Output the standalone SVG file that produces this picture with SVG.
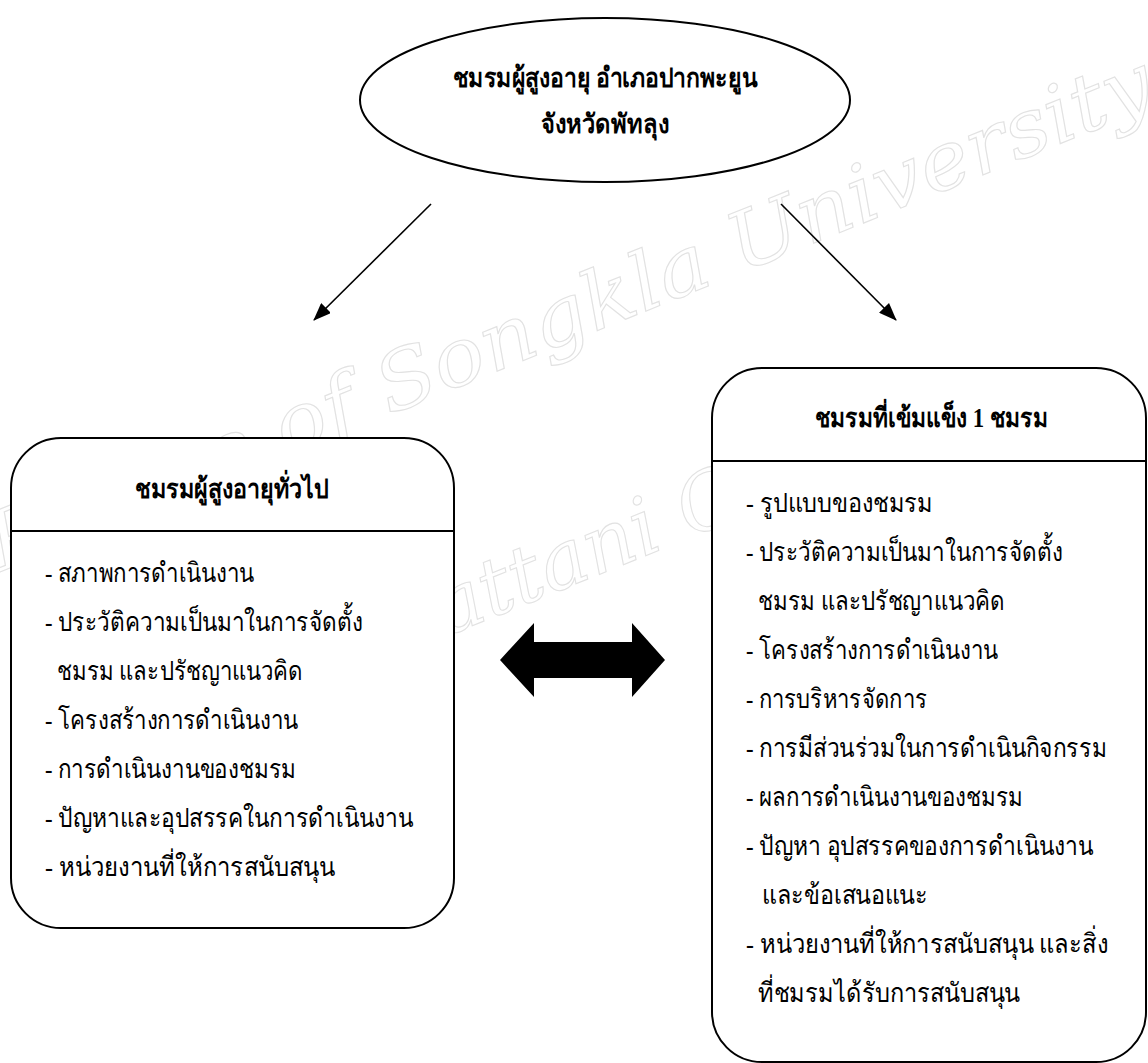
<svg xmlns="http://www.w3.org/2000/svg" width="1148" height="1063" viewBox="0 0 1148 1063">
  <style>
    .bg { fill: #ffffff; }
    .wm { font-family: "DejaVu Serif", "Liberation Serif", serif; font-style: italic; font-size: 80px; fill: none; stroke: #e2e2e2; stroke-width: 1.1; }
    .shape { fill: #ffffff; stroke: #000000; stroke-width: 2; }
    .div { stroke: #000000; stroke-width: 2; }
    .conn { stroke: #000000; stroke-width: 1.6; fill: none; }
    .t { font-family: "Liberation Serif", "DejaVu Serif", serif; font-size: 27px; fill: #000000; }
    .b { font-weight: bold; }
  </style>
  <defs>
    <marker id="ah" viewBox="0 0 18 14" refX="17" refY="7" markerWidth="18" markerHeight="14" markerUnits="userSpaceOnUse" orient="auto">
      <path d="M0,0 L18,7 L0,14 z" fill="#000000"/>
    </marker>
  </defs>
  <rect class="bg" x="0" y="0" width="1148" height="1063"/>

  <g id="watermark">
    <text class="wm" transform="translate(0,572) rotate(-22)" textLength="1250" lengthAdjust="spacingAndGlyphs">Prince of Songkla University</text>
    <text class="wm" transform="translate(400,655) rotate(-22)" textLength="640" lengthAdjust="spacingAndGlyphs">Pattani Campus</text>
  </g>

  <g id="connectors">
    <line class="conn" x1="431" y1="204" x2="314" y2="320" marker-end="url(#ah)"/>
    <line class="conn" x1="781" y1="204" x2="896" y2="320" marker-end="url(#ah)"/>
    <polygon points="500,660 534,623 534,642 632,642 632,623 665,660 632,697 632,678 534,678 534,697" fill="#000000"/>
  </g>

  <g id="node-top">
    <ellipse class="shape" cx="605" cy="100" rx="245" ry="82"/>
    <text class="t b" x="453" y="87" textLength="304" lengthAdjust="spacingAndGlyphs">ชมรมผู้สูงอายุ อำเภอปากพะยูน</text>
    <text class="t b" x="541" y="133" textLength="128" lengthAdjust="spacingAndGlyphs">จังหวัดพัทลุง</text>
  </g>

  <g id="node-left">
    <rect class="shape" x="11" y="438" width="443" height="490" rx="50" ry="50"/>
    <line class="div" x1="11" y1="531" x2="454" y2="531"/>
    <text class="t b" x="135" y="498" textLength="194" lengthAdjust="spacingAndGlyphs">ชมรมผู้สูงอายุทั่วไป</text>
    <text class="t" x="45" y="582" textLength="209" lengthAdjust="spacingAndGlyphs">- สภาพการดำเนินงาน</text>
    <text class="t" x="45" y="631" textLength="318" lengthAdjust="spacingAndGlyphs">- ประวัติความเป็นมาในการจัดตั้ง</text>
    <text class="t" x="57" y="680" textLength="246" lengthAdjust="spacingAndGlyphs">ชมรม และปรัชญาแนวคิด</text>
    <text class="t" x="45" y="729" textLength="253" lengthAdjust="spacingAndGlyphs">- โครงสร้างการดำเนินงาน</text>
    <text class="t" x="45" y="778" textLength="251" lengthAdjust="spacingAndGlyphs">- การดำเนินงานของชมรม</text>
    <text class="t" x="45" y="827" textLength="368" lengthAdjust="spacingAndGlyphs">- ปัญหาและอุปสรรคในการดำเนินงาน</text>
    <text class="t" x="45" y="876" textLength="290" lengthAdjust="spacingAndGlyphs">- หน่วยงานที่ให้การสนับสนุน</text>
  </g>

  <g id="node-right">
    <rect class="shape" x="712" y="368" width="434" height="694" rx="50" ry="50"/>
    <line class="div" x1="712" y1="461" x2="1146" y2="461"/>
    <text class="t b" x="815" y="427" textLength="233" lengthAdjust="spacingAndGlyphs">ชมรมที่เข้มแข็ง 1 ชมรม</text>
    <text class="t" x="746" y="512" textLength="187" lengthAdjust="spacingAndGlyphs">- รูปแบบของชมรม</text>
    <text class="t" x="746" y="561" textLength="317" lengthAdjust="spacingAndGlyphs">- ประวัติความเป็นมาในการจัดตั้ง</text>
    <text class="t" x="758" y="610" textLength="247" lengthAdjust="spacingAndGlyphs">ชมรม และปรัชญาแนวคิด</text>
    <text class="t" x="746" y="659" textLength="252" lengthAdjust="spacingAndGlyphs">- โครงสร้างการดำเนินงาน</text>
    <text class="t" x="746" y="708" textLength="181" lengthAdjust="spacingAndGlyphs">- การบริหารจัดการ</text>
    <text class="t" x="746" y="757" textLength="361" lengthAdjust="spacingAndGlyphs">- การมีส่วนร่วมในการดำเนินกิจกรรม</text>
    <text class="t" x="746" y="806" textLength="277" lengthAdjust="spacingAndGlyphs">- ผลการดำเนินงานของชมรม</text>
    <text class="t" x="746" y="855" textLength="347" lengthAdjust="spacingAndGlyphs">- ปัญหา อุปสรรคของการดำเนินงาน</text>
    <text class="t" x="762" y="904" textLength="166" lengthAdjust="spacingAndGlyphs">และข้อเสนอแนะ</text>
    <text class="t" x="746" y="953" textLength="362" lengthAdjust="spacingAndGlyphs">- หน่วยงานที่ให้การสนับสนุน และสิ่ง</text>
    <text class="t" x="758" y="1002" textLength="262" lengthAdjust="spacingAndGlyphs">ที่ชมรมได้รับการสนับสนุน</text>
  </g>
</svg>
